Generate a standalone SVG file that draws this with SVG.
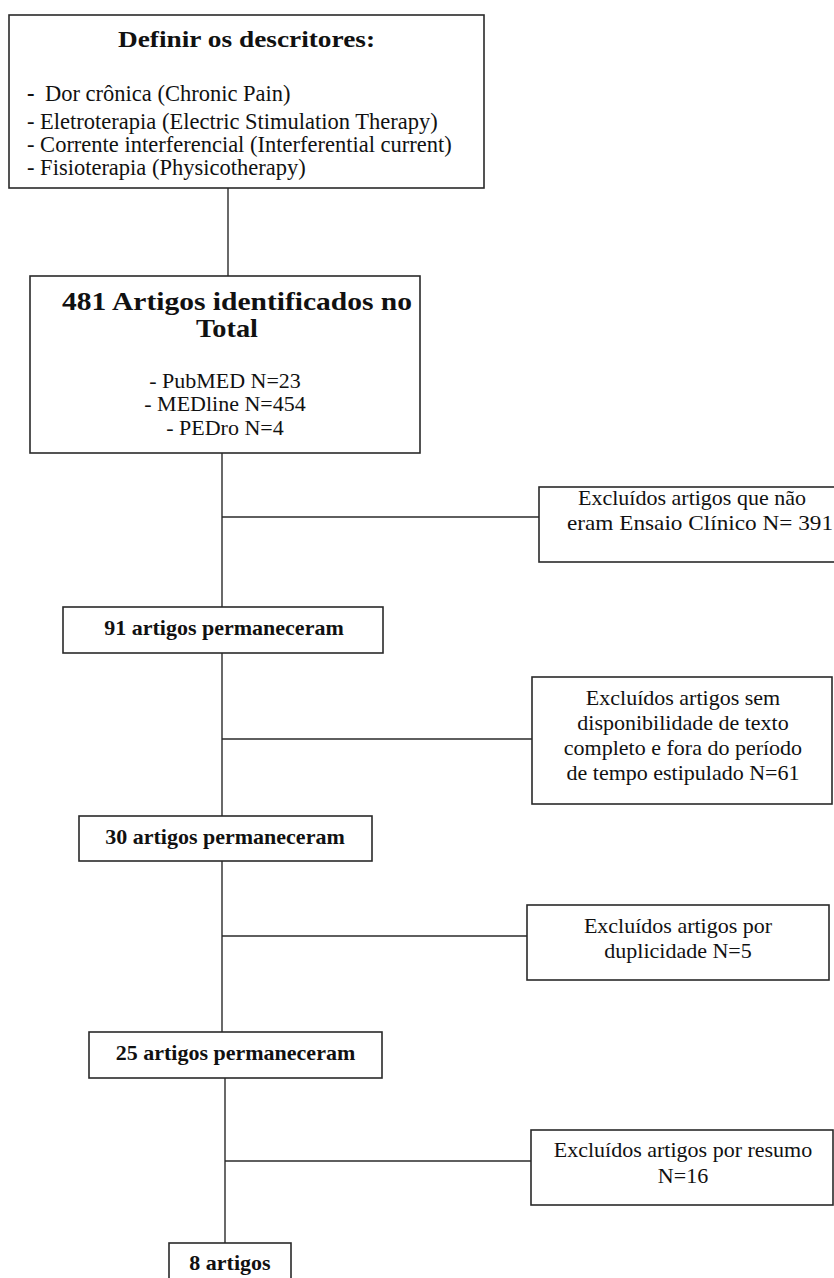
<svg xmlns="http://www.w3.org/2000/svg" width="834" height="1278" viewBox="0 0 834 1278">
<style>
.box{fill:#fff;stroke:#2a2a2a;stroke-width:1.6}
.ln{stroke:#2a2a2a;stroke-width:1.4;fill:none}
.t{font-family:"Liberation Serif","Times New Roman",serif;font-size:22px;fill:#111}
.b{font-weight:bold}
.c{text-anchor:middle}
</style>
<rect width="834" height="1278" fill="#fff"/>
<g id="connectors">
<line class="ln" x1="228" y1="188" x2="228" y2="276"/>
<line class="ln" x1="222" y1="453" x2="222" y2="607"/>
<line class="ln" x1="222" y1="517" x2="539" y2="517"/>
<line class="ln" x1="222" y1="653" x2="222" y2="816"/>
<line class="ln" x1="222" y1="739" x2="532" y2="739"/>
<line class="ln" x1="222" y1="861" x2="222" y2="1032"/>
<line class="ln" x1="222" y1="936" x2="527" y2="936"/>
<line class="ln" x1="225" y1="1078" x2="225" y2="1243"/>
<line class="ln" x1="225" y1="1161" x2="531" y2="1161"/>
</g>
<g id="descritores">
<rect class="box" x="9" y="15" width="475" height="173"/>
<text class="t b" x="118" y="47" style="font-size:24px" textLength="257" lengthAdjust="spacingAndGlyphs">Definir os descritores:</text>
<text class="t" x="27" y="101" style="font-size:22.5px"><tspan class="b">-</tspan><tspan x="45">Dor crônica (Chronic Pain)</tspan></text>
<text class="t" x="27" y="129" style="font-size:22.5px">- Eletroterapia (Electric Stimulation Therapy)</text>
<text class="t" x="27" y="152" style="font-size:22.5px">- Corrente interferencial (Interferential current)</text>
<text class="t" x="27" y="175" style="font-size:22.5px">- Fisioterapia (Physicotherapy)</text>
</g>
<g id="identificados">
<rect class="box" x="30" y="276" width="390" height="177"/>
<text class="t b" x="62" y="310" style="font-size:25px" textLength="350" lengthAdjust="spacingAndGlyphs">481 Artigos identificados no</text>
<text class="t b" x="196" y="337" style="font-size:25px" textLength="62" lengthAdjust="spacingAndGlyphs">Total</text>
<text class="t c" x="225" y="388">- PubMED N=23</text>
<text class="t c" x="225" y="411">- MEDline N=454</text>
<text class="t c" x="225" y="435">- PEDro N=4</text>
</g>
<g id="excl1">
<rect class="box" x="539" y="487" width="310" height="75"/>
<text class="t c" x="692" y="505">Excluídos artigos que não</text>
<text class="t" x="567" y="530" textLength="266" lengthAdjust="spacingAndGlyphs">eram Ensaio Clínico N= 391</text>
</g>
<g id="perm91">
<rect class="box" x="63" y="607" width="320" height="46"/>
<text class="t b c" x="224" y="635">91 artigos permaneceram</text>
</g>
<g id="excl2">
<rect class="box" x="532" y="677" width="300" height="127"/>
<text class="t c" x="683" y="705">Excluídos artigos sem</text>
<text class="t c" x="683" y="730">disponibilidade de texto</text>
<text class="t c" x="683" y="755">completo e fora do período</text>
<text class="t c" x="683" y="780">de tempo estipulado N=61</text>
</g>
<g id="perm30">
<rect class="box" x="79" y="816" width="293" height="45"/>
<text class="t b c" x="225" y="844">30 artigos permaneceram</text>
</g>
<g id="excl3">
<rect class="box" x="527" y="905" width="302" height="75"/>
<text class="t c" x="678" y="933">Excluídos artigos por</text>
<text class="t c" x="678" y="958">duplicidade N=5</text>
</g>
<g id="perm25">
<rect class="box" x="89" y="1032" width="293" height="46"/>
<text class="t b c" x="235.5" y="1060">25 artigos permaneceram</text>
</g>
<g id="excl4">
<rect class="box" x="531" y="1130" width="302" height="75"/>
<text class="t c" x="683" y="1157">Excluídos artigos por resumo</text>
<text class="t c" x="683" y="1183">N=16</text>
</g>
<g id="final">
<rect class="box" x="169" y="1243" width="122" height="50"/>
<text class="t b c" x="230" y="1270">8 artigos</text>
</g>
</svg>
